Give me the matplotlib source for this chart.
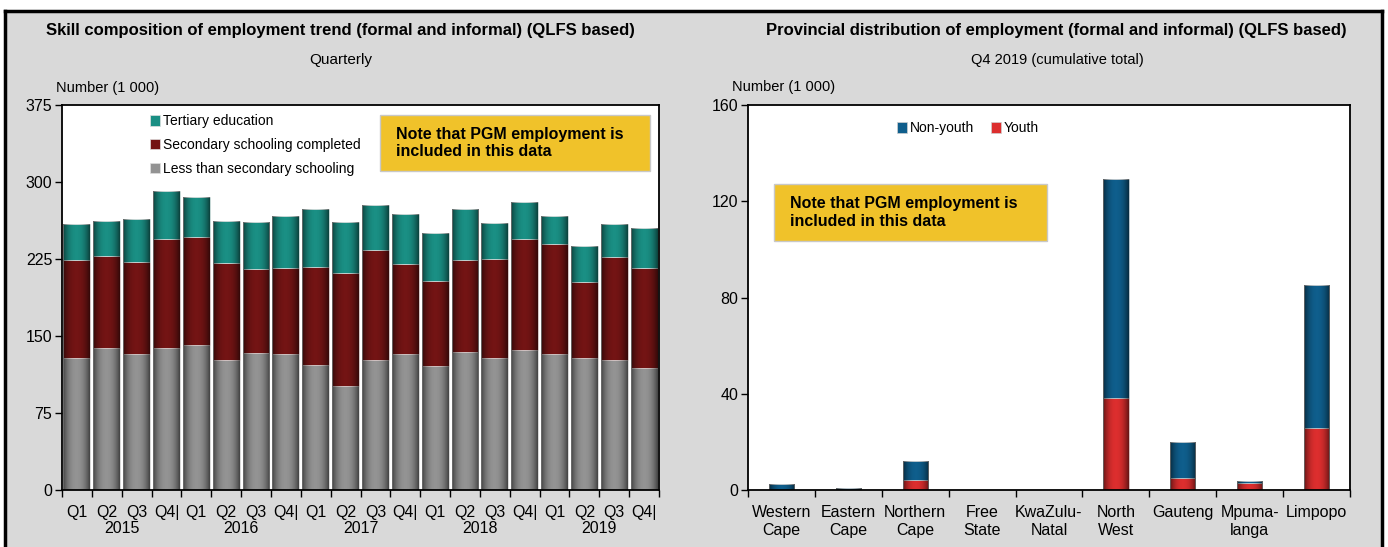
import numpy as np
import matplotlib
matplotlib.use("Agg")
import matplotlib.pyplot as plt
from matplotlib import font_manager
from matplotlib.transforms import blended_transform_factory

names = {f.name for f in font_manager.fontManager.ttflist}
NARROW = 'Liberation Sans Narrow' if 'Liberation Sans Narrow' in names else 'Liberation Sans'
plt.rcParams['font.family'] = [NARROW, 'DejaVu Sans']

# ---- data: skill composition (thousands) ----
quarters = ["Q1", "Q2", "Q3", "Q4|"] * 5
years = ["2015", "2016", "2017", "2018", "2019"]
less_secondary = [129, 138, 132, 138, 141, 127, 133, 132, 122, 101,
                  127, 132, 121, 134, 129, 136, 132, 129, 127, 119]
secondary = [95, 90, 90, 106, 105, 94, 82, 84, 95, 110,
             107, 88, 83, 90, 96, 108, 108, 74, 100, 97]
tertiary = [35, 34, 42, 47, 39, 41, 46, 51, 57, 50,
            44, 49, 46, 50, 35, 37, 27, 35, 32, 39]

# ---- data: provincial distribution (thousands) ----
provinces = ["Western\nCape", "Eastern\nCape", "Northern\nCape", "Free\nState",
             "KwaZulu-\nNatal", "North\nWest", "Gauteng", "Mpuma-\nlanga", "Limpopo"]
youth = [0.0, 0.0, 4.1, 0.0, 0.0, 38.3, 4.8, 2.8, 25.7]
non_youth = [2.3, 1.0, 8.1, 0.0, 0.0, 90.9, 15.0, 0.8, 59.4]

W, H = 1388, 547
fig = plt.figure(figsize=(W / 100, H / 100), dpi=100)
fig.patch.set_facecolor("white")


def fx(x):
    return x / W


def fy(y):
    return 1 - y / H


# panel background with border on top/left/right
bg = plt.Rectangle((fx(5), 0), fx(1382) - fx(5), fy(11), transform=fig.transFigure,
                   facecolor="#d9d9d9", edgecolor="none", zorder=-10)
fig.add_artist(bg)
for xs, ys in [([fx(5), fx(1382)], [fy(11), fy(11)]), ([fx(5), fx(5)], [0, fy(11)]),
               ([fx(1382), fx(1382)], [0, fy(11)])]:
    fig.add_artist(plt.Line2D(xs, ys, color="black", lw=2.5, transform=fig.transFigure, zorder=-5))

ax1 = fig.add_axes([fx(62), fy(490), fx(659) - fx(62), fy(105) - fy(490)])
ax2 = fig.add_axes([fx(748), fy(490), fx(1350) - fx(748), fy(105) - fy(490)])

c_less, c_sec, c_ter = "#939393", "#731414", "#1a8f84"
c_non, c_youth = "#0f5e8c", "#dc2e2e"

# horizontal shading to mimic the bevelled bars
t = np.linspace(-1, 1, 64)
shade = np.zeros((1, 64, 4))
shade[..., 3] = 0.55 * np.abs(t) ** 2.2


def bevel(ax, bars):
    for p in bars:
        if p.get_height() <= 0:
            continue
        x0, y0 = p.get_x(), p.get_y()
        im = ax.imshow(shade, extent=[x0, x0 + p.get_width(), y0, y0 + p.get_height()],
                       aspect="auto", interpolation="bilinear", zorder=p.get_zorder() + 0.1)
        im.set_clip_path(p)


x1 = np.arange(len(quarters))
b1 = ax1.bar(x1, less_secondary, 0.9, color=c_less, edgecolor="#e0e0e0", lw=0.5,
             label="Less than secondary schooling")
b2 = ax1.bar(x1, secondary, 0.9, bottom=less_secondary, color=c_sec, edgecolor="#e0e0e0", lw=0.5,
             label="Secondary schooling completed")
bot = np.array(less_secondary) + np.array(secondary)
b3 = ax1.bar(x1, tertiary, 0.9, bottom=bot, color=c_ter, edgecolor="#e0e0e0", lw=0.5,
             label="Tertiary education")
for bars in (b1, b2, b3):
    bevel(ax1, bars)

x2 = np.arange(len(provinces))
r1 = ax2.bar(x2, youth, 0.38, color=c_youth, edgecolor="#d0d0d0", lw=0.5, label="Youth")
r2 = ax2.bar(x2, non_youth, 0.38, bottom=youth, color=c_non, edgecolor="#d0d0d0", lw=0.5,
             label="Non-youth")
for bars in (r1, r2):
    bevel(ax2, bars)

for ax in (ax1, ax2):
    ax.set_facecolor("white")
    for s in ax.spines.values():
        s.set_linewidth(1.3)
    ax.tick_params(axis="y", length=5, width=1, labelsize=11.5, pad=2)
    ax.tick_params(axis="x", which="major", length=5, width=1, labelbottom=False)
    ax.tick_params(axis="x", which="minor", length=0, labelsize=11.5, pad=11)

ax1.set_xlim(-0.5, len(quarters) - 0.5)
ax1.set_ylim(0, 375)
ax1.set_yticks(np.arange(0, 376, 75))
ax1.set_xticks(np.arange(-0.5, len(quarters), 1))
ax1.set_xticks(x1, minor=True)
ax1.set_xticklabels(quarters, minor=True)
tr = blended_transform_factory(ax1.transData, ax1.transAxes)
for i, yr in enumerate(years):
    ax1.text(4 * i + 1.5, -0.1, yr, transform=tr, ha="center", va="center", fontsize=11.5)

ax2.set_xlim(-0.5, len(provinces) - 0.5)
ax2.set_ylim(0, 160)
ax2.set_yticks(np.arange(0, 161, 40))
ax2.set_xticks(np.arange(-0.5, len(provinces), 1))
ax2.set_xticks(x2, minor=True)
ax2.set_xticklabels(provinces, minor=True, linespacing=1.25)

leg1 = ax1.legend(handles=[b3, b2, b1], loc="upper left", bbox_to_anchor=(0.138, 0.99), frameon=False,
                  fontsize=10, handlelength=0.75, handleheight=0.75, handletextpad=0.2, labelspacing=0.7,
                  borderaxespad=0)
leg2 = ax2.legend(handles=[r2, r1], loc="upper left", bbox_to_anchor=(0.238, 0.972), frameon=False,
                  fontsize=10, ncol=2, handlelength=0.75, handleheight=0.75, handletextpad=0.2,
                  columnspacing=1.2, borderaxespad=0)

# note boxes
note = "Note that PGM employment is\nincluded in this data"
for (x0, y0, x1b, y1b) in [(380, 115, 650, 171), (774, 184, 1047, 241)]:
    fig.add_artist(plt.Rectangle((fx(x0), fy(y1b)), fx(x1b) - fx(x0), fy(y0) - fy(y1b),
                                 transform=fig.transFigure, facecolor="#f0c22a",
                                 edgecolor="#c8c8c8", lw=1, zorder=5))
    fig.text(fx(x0 + 16), fy((y0 + y1b) / 2), note, ha="left", va="center", fontsize=11.5,
             fontweight="bold", linespacing=1.2, zorder=6)

# titles
fig.text(fx(340), fy(31), "Skill composition of employment trend (formal and informal) (QLFS based)",
         ha="center", va="center", fontsize=12, fontweight="bold")
fig.text(fx(341), fy(60), "Quarterly", ha="center", va="center", fontsize=11)
fig.text(fx(56), fy(88), "Number (1 000)", ha="left", va="center", fontsize=10.5)

fig.text(fx(1056), fy(30), "Provincial distribution of employment (formal and informal) (QLFS based)",
         ha="center", va="center", fontsize=12, fontweight="bold")
fig.text(fx(1057), fy(60), "Q4 2019 (cumulative total)", ha="center", va="center", fontsize=10.5)
fig.text(fx(732), fy(87), "Number (1 000)", ha="left", va="center", fontsize=10.5)

fig.savefig("out.png", dpi=100, facecolor="white")
